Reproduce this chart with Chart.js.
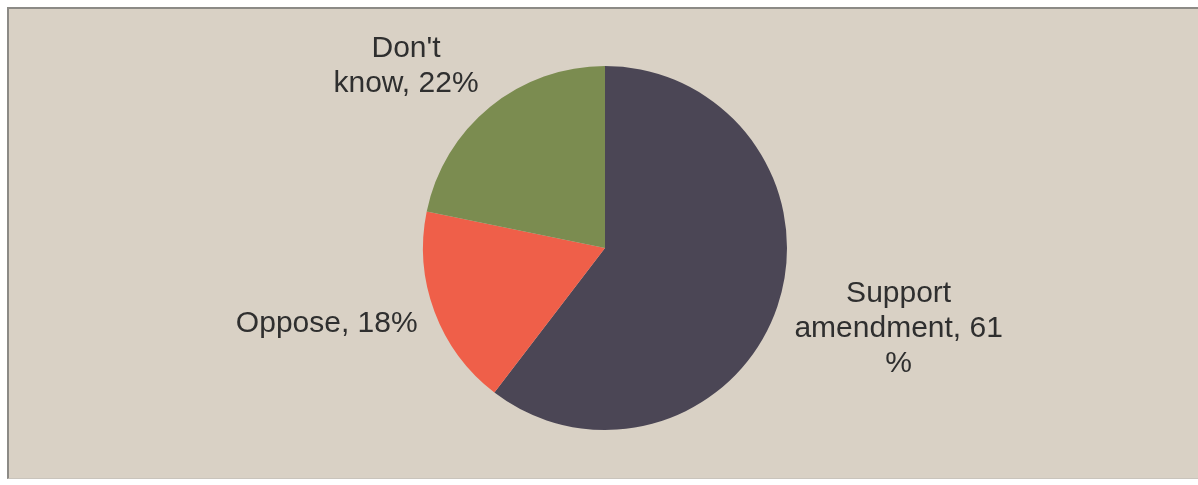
<!DOCTYPE html>
<html>
<head>
<meta charset="utf-8">
<script src="https://cdn.jsdelivr.net/npm/chart.js@4"></script>
<style>
    html, body { margin: 0; padding: 0; background: #ffffff; }
    body { width: 1198px; height: 485px; position: relative; overflow: hidden; }
    #panel {
        position: absolute; left: 7px; top: 7px; width: 1200px; height: 469px;
        background: #d9d1c5;
        border-left: 2px solid #8c8a86; border-top: 2px solid #8c8a86;
        border-bottom: 1px solid #c9c4bc;
    }
    #wrap { position: absolute; left: 0; top: 0; width: 1198px; height: 485px; }
</style>
</head>
<body>
<div id="panel"></div>
<div id="wrap"><canvas id="pieChart"></canvas></div>
<script>
// chart data
const categories = ['Support amendment', 'Oppose', "Don't know"];
const shares = [61, 18, 22];
const labelLines = [
    ['Support', 'amendment, 61', '%'],
    ['Oppose, 18%'],
    ["Don't", 'know, 22%']
];
const sliceColors = ['#4b4655', '#ef5f49', '#7b8c50'];

document.addEventListener('DOMContentLoaded', function() {
    Chart.defaults.font.family = '"Liberation Sans", Arial, sans-serif';

    // draws the data labels outside the slices, Excel style
    const outsideLabels = {
        id: 'outsideLabels',
        afterDatasetsDraw(chart) {
            const ctx = chart.ctx;
            const meta = chart.getDatasetMeta(0);
            const lineH = 35;
            ctx.save();
            ctx.font = '30px "Liberation Sans", Arial, sans-serif';
            ctx.fillStyle = '#2f2f2f';
            ctx.textBaseline = 'middle';
            meta.data.forEach(function(arc, i) {
                const mid = (arc.startAngle + arc.endAngle) / 2;
                const dist = arc.outerRadius + 18;
                const px = arc.x + Math.cos(mid) * dist;
                const py = arc.y + Math.sin(mid) * dist;
                const lines = labelLines[i];
                const w = Math.max.apply(null, lines.map(function(l) { return ctx.measureText(l).width; }));
                const h = lines.length * lineH;
                const cx = Math.cos(mid) > 0 ? px + w / 2 : px - w / 2;
                const cy = py + Math.sin(mid) * h / 2;
                ctx.textAlign = 'center';
                lines.forEach(function(l, j) {
                    ctx.fillText(l, cx, cy - h / 2 + lineH * (j + 0.5));
                });
            });
            ctx.restore();
        }
    };

    const ctx = document.getElementById('pieChart').getContext('2d');
    new Chart(ctx, {
        type: 'pie',
        data: {
            labels: categories,
            datasets: [{
                data: shares,
                backgroundColor: sliceColors,
                borderWidth: 0
            }]
        },
        options: {
            responsive: true,
            maintainAspectRatio: false,
            animation: false,
            layout: { padding: { left: 12, right: 0, top: 66, bottom: 55 } },
            plugins: {
                legend: { display: false },
                tooltip: { enabled: false }
            }
        },
        plugins: [outsideLabels]
    });
});
</script>
</body>
</html>
